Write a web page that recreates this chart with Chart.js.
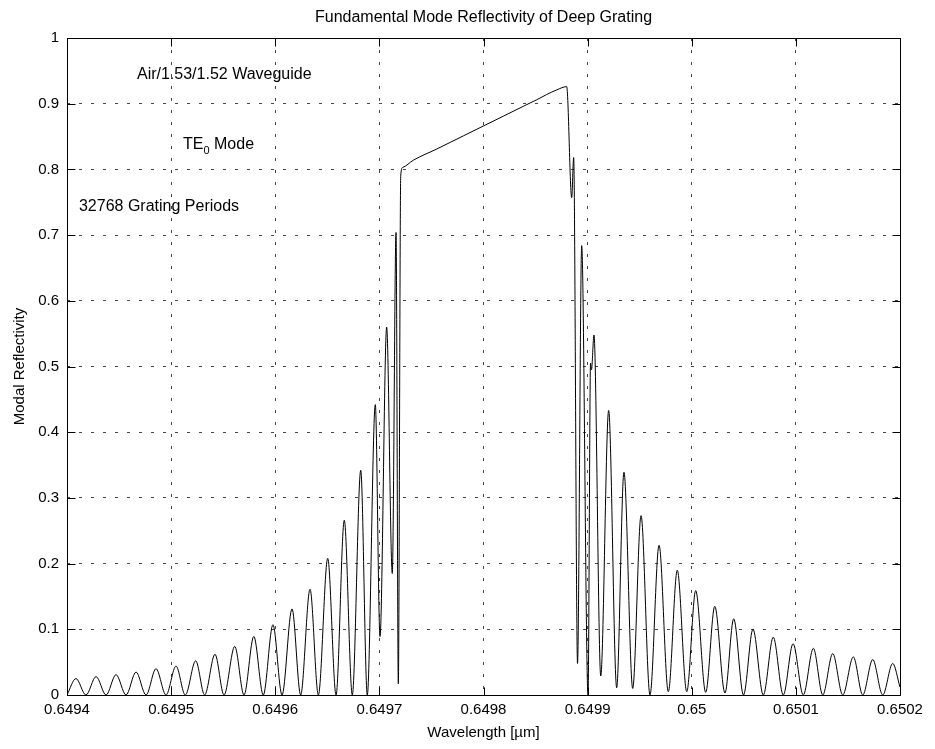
<!DOCTYPE html>
<html>
<head>
<meta charset="utf-8">
<script src="https://cdn.jsdelivr.net/npm/chart.js@4/dist/chart.umd.min.js"></script>
<style>
  html, body { margin: 0; padding: 0; background: #fff; }
  #wrap { width: 935px; height: 749px; }
</style>
</head>
<body>
<div id="wrap"><canvas id="c" width="935" height="749"></canvas></div>
<script>
// Wavelength samples [µm] at the lobe peaks, nulls and band-edge features
const wavelengths = [
  0.6494000, 0.6494086, 0.6494182, 0.6494279, 0.6494375, 0.6494471, 0.6494567, 0.6494663,
  0.6494759, 0.6494855, 0.6494951, 0.6495047, 0.6495136, 0.6495236, 0.6495322, 0.6495421,
  0.6495508, 0.6495611, 0.6495700, 0.6495794, 0.6495885, 0.6495978, 0.6496065, 0.6496161,
  0.6496244, 0.6496334, 0.6496414, 0.6496504, 0.6496584, 0.6496663, 0.6496740, 0.6496821,
  0.6496884, 0.6496961, 0.6497006, 0.6497070, 0.6497124, 0.6497160, 0.6497182, 0.6497205,
  0.6497224, 0.6497326, 0.6497551, 0.6497806, 0.6497998, 0.6498190, 0.6498382, 0.6498511,
  0.6498607, 0.6498703, 0.6498799, 0.6498847, 0.6498866, 0.6498903, 0.6498943, 0.6499004,
  0.6499028, 0.6499037, 0.6499061, 0.6499126, 0.6499202, 0.6499279, 0.6499349, 0.6499433,
  0.6499513, 0.6499599, 0.6499686, 0.6499775, 0.6499861, 0.6499952, 0.6500038, 0.6500134,
  0.6500221, 0.6500319, 0.6500403, 0.6500497, 0.6500588, 0.6500687, 0.6500783, 0.6500879,
  0.6500973, 0.6501071, 0.6501168, 0.6501258, 0.6501354, 0.6501450, 0.6501552, 0.6501642,
  0.6501738, 0.6501834, 0.6501930, 0.6502000
];

// Modal reflectivity of the fundamental mode at those wavelengths
const reflectivity = [
  0.000, 0.025, 0.000, 0.028, 0.000, 0.031, 0.000, 0.035,
  0.000, 0.040, 0.000, 0.044, 0.000, 0.052, 0.000, 0.062,
  0.000, 0.074, 0.000, 0.089, 0.000, 0.107, 0.000, 0.131,
  0.000, 0.161, 0.000, 0.208, 0.000, 0.266, 0.000, 0.342,
  0.000, 0.442, 0.089, 0.560, 0.185, 0.704, 0.017, 0.790,
  0.803, 0.814, 0.831, 0.851, 0.866, 0.881, 0.896, 0.906,
  0.914, 0.921, 0.926, 0.757, 0.818, 0.048, 0.684, 0.000,
  0.505, 0.495, 0.548, 0.029, 0.433, 0.011, 0.339, 0.010,
  0.273, 0.000, 0.228, 0.005, 0.190, 0.005, 0.159, 0.004,
  0.135, 0.003, 0.116, 0.000, 0.100, 0.000, 0.088, 0.000,
  0.078, 0.000, 0.071, 0.000, 0.063, 0.000, 0.058, 0.000,
  0.054, 0.000, 0.048, 0.012
];

const xTickValues = [0.6494, 0.6495, 0.6496, 0.6497, 0.6498, 0.6499, 0.6500, 0.6501, 0.6502];
const yTickValues = [0, 0.1, 0.2, 0.3, 0.4, 0.5, 0.6, 0.7, 0.8, 0.9, 1];

const chartTitle = 'Fundamental Mode Reflectivity of Deep Grating';
const xTitle = 'Wavelength [\u00b5m]';
const yTitle = 'Modal Reflectivity';

// Text notes placed in data coordinates (left edge, vertical middle)
const notes = [
  { parts: [['Air/1.53/1.52 Waveguide', false]], x: 0.6494672, y: 0.944 },
  { parts: [['TE', false], ['0', true], [' Mode', false]], x: 0.6495114, y: 0.837 },
  { parts: [['32768 Grating Periods', false]], x: 0.6494115, y: 0.743 }
];

const FONT = '"Liberation Sans", Arial, Helvetica, sans-serif';
const PLOT = { left: 67, top: 38, right: 900, bottom: 695 };
const TICK_LEN = 8;

const px = v => Math.round(v) + 0.5;

// Axes box, inward tick marks on all four sides, title and text notes
const framePlugin = {
  id: 'frame',
  afterDraw(chart) {
    const { ctx, chartArea: a, scales: { x, y } } = chart;
    const L = px(a.left), R = px(a.right), T = px(a.top), B = px(a.bottom);
    ctx.save();
    ctx.strokeStyle = '#000';
    ctx.lineWidth = 1;
    ctx.setLineDash([]);
    ctx.beginPath();
    ctx.rect(L, T, R - L, B - T);
    xTickValues.forEach(v => {
      const xp = px(x.getPixelForValue(v));
      ctx.moveTo(xp, B); ctx.lineTo(xp, B - TICK_LEN);
      ctx.moveTo(xp, T); ctx.lineTo(xp, T + TICK_LEN);
    });
    yTickValues.forEach(v => {
      const yp = px(y.getPixelForValue(v));
      ctx.moveTo(L, yp); ctx.lineTo(L + TICK_LEN, yp);
      ctx.moveTo(R, yp); ctx.lineTo(R - TICK_LEN, yp);
    });
    ctx.stroke();

    ctx.fillStyle = '#000';
    ctx.textBaseline = 'middle';
    ctx.textAlign = 'center';
    ctx.font = '16px ' + FONT;
    ctx.fillText(chartTitle, (a.left + a.right) / 2, 18);

    ctx.textAlign = 'left';
    notes.forEach(n => {
      let cx = x.getPixelForValue(n.x);
      const cy = y.getPixelForValue(n.y);
      n.parts.forEach(([txt, sub]) => {
        ctx.font = (sub ? '11px ' : '16px ') + FONT;
        ctx.fillText(txt, cx, sub ? cy + 6 : cy);
        cx += ctx.measureText(txt).width;
      });
    });
    ctx.restore();
  }
};

const fmt = v => String(Number(v.toFixed(4)));

new Chart(document.getElementById('c'), {
  type: 'line',
  data: {
    datasets: [{
      data: wavelengths.map((w, i) => ({ x: w, y: reflectivity[i] })),
      borderColor: '#000',
      borderWidth: 1,
      pointRadius: 0,
      fill: false,
      cubicInterpolationMode: 'monotone'
    }]
  },
  options: {
    responsive: false,
    devicePixelRatio: 1,
    animation: false,
    events: [],
    layout: { padding: { top: PLOT.top, right: 935 - PLOT.right, left: 0, bottom: 0 } },
    plugins: { legend: { display: false }, tooltip: { enabled: false }, title: { display: false } },
    scales: {
      x: {
        type: 'linear',
        min: 0.6494,
        max: 0.6502,
        afterBuildTicks: s => { s.ticks = xTickValues.map(v => ({ value: v })); },
        afterFit: s => { s.height = 749 - PLOT.bottom; },
        ticks: {
          callback: v => fmt(v),
          color: '#000',
          font: { family: FONT, size: 15 },
          padding: 6,
          maxRotation: 0,
          autoSkip: false
        },
        grid: { color: '#444', lineWidth: 1, drawTicks: false },
        border: { display: false, dash: [3, 9] },
        title: {
          display: true, text: xTitle, color: '#000',
          font: { family: FONT, size: 15 }, padding: { top: 0, bottom: 7 }
        }
      },
      y: {
        type: 'linear',
        min: 0,
        max: 1,
        afterBuildTicks: s => { s.ticks = yTickValues.map(v => ({ value: v })); },
        afterFit: s => { s.width = PLOT.left; },
        ticks: {
          callback: v => fmt(v),
          color: '#000',
          font: { family: FONT, size: 15 },
          padding: 8,
          autoSkip: false
        },
        grid: { color: '#444', lineWidth: 1, drawTicks: false },
        border: { display: false, dash: [3, 9] },
        title: {
          display: true, text: yTitle, color: '#000',
          font: { family: FONT, size: 15 }, padding: { top: 11, bottom: 0 }
        }
      }
    }
  },
  plugins: [framePlugin]
});
</script>
</body>
</html>
